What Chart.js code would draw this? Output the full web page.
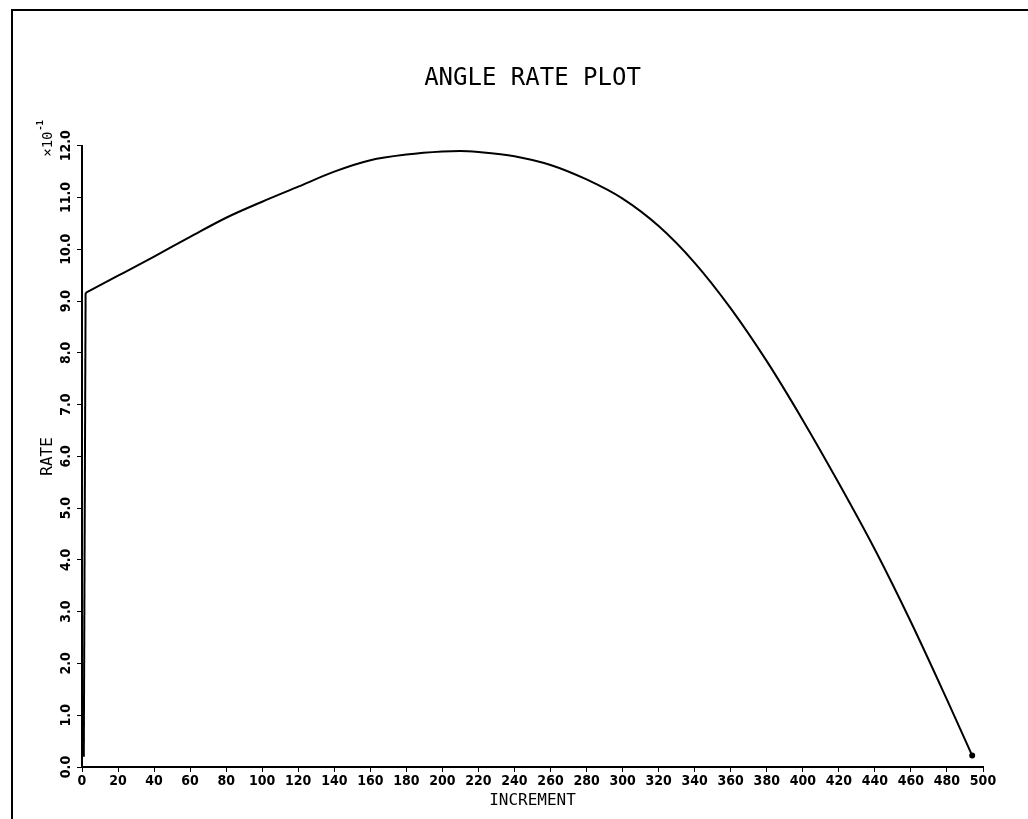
<!DOCTYPE html>
<html>
<head>
<meta charset="utf-8">
<script src="https://cdn.jsdelivr.net/npm/chart.js@4"></script>
<style>
  body { margin: 0; background: #fff; }
  canvas { display: block; }
</style>
</head>
<body>
<canvas id="rateChart" width="1028" height="819"></canvas>
<script>
const increments = [1, 2, 20, 40, 60, 80, 100, 120, 140, 160, 180, 200, 210, 220, 240, 260, 280, 300, 320, 340, 360, 380, 400, 420, 440, 460, 480, 494];
const rates = [0.2, 9.16, 9.49, 9.86, 10.24, 10.61, 10.92, 11.21, 11.50, 11.72, 11.83, 11.89, 11.90, 11.88, 11.80, 11.63, 11.35, 10.98, 10.45, 9.74, 8.86, 7.84, 6.70, 5.48, 4.20, 2.80, 1.30, 0.22];
const xTicks = [0, 20, 40, 60, 80, 100, 120, 140, 160, 180, 200, 220, 240, 260, 280, 300, 320, 340, 360, 380, 400, 420, 440, 460, 480, 500];
const yTicks = [0, 1, 2, 3, 4, 5, 6, 7, 8, 9, 10, 11, 12];

const tickFont = { family: "'Liberation Sans Narrow', 'DejaVu Sans Condensed', sans-serif", size: 14, weight: 'bold' };
const monoFont = "'DejaVu Sans Mono', monospace";

const points = increments.map((x, i) => ({ x: x, y: rates[i] }));
// start-up jump drawn straight, the rest as a smooth curve
const jump = points.slice(0, 2);
const curve = points.slice(1);

// page frame + exponent label
const framePlugin = {
    id: 'frame',
    beforeDraw(chart) {
        const c = chart.ctx;
        c.save();
        c.fillStyle = '#fff';
        c.fillRect(0, 0, chart.width, chart.height);
        c.strokeStyle = '#000';
        c.lineWidth = 2;
        c.beginPath();
        c.moveTo(12, chart.height);
        c.lineTo(12, 10);
        c.lineTo(chart.width, 10);
        c.stroke();
        c.restore();
    },
    afterDraw(chart) {
        const y = chart.scales.y;
        const c = chart.ctx;
        c.save();
        c.translate(48, y.top + 11);
        c.rotate(-Math.PI / 2);
        c.fillStyle = '#000';
        c.textBaseline = 'middle';
        c.textAlign = 'left';
        c.font = '14px ' + monoFont;
        c.fillText('\u00d710', 0, 0);
        c.font = 'bold 9px ' + monoFont;
        c.fillText('-1', 26, -7);
        c.restore();
    }
};

new Chart(document.getElementById('rateChart').getContext('2d'), {
    type: 'line',
    data: {
        datasets: [{
            label: 'RATE',
            data: jump,
            borderColor: '#000',
            borderWidth: 2,
            tension: 0,
            pointRadius: 0,
            fill: false
        }, {
            label: 'RATE',
            data: curve,
            borderColor: '#000',
            backgroundColor: '#000',
            borderWidth: 2,
            cubicInterpolationMode: 'monotone',
            pointRadius: curve.map((p, i) => i === curve.length - 1 ? 2 : 0),
            fill: false
        }]
    },
    options: {
        responsive: false,
        animation: false,
        layout: { padding: { left: 30, right: 45, top: 0, bottom: 0 } },
        plugins: {
            legend: { display: false },
            tooltip: { enabled: false },
            title: {
                display: true,
                text: 'ANGLE RATE PLOT',
                fullSize: false,
                color: '#000',
                font: { family: monoFont, size: 24, weight: 'normal' },
                padding: { top: 64, bottom: 53 }
            }
        },
        scales: {
            x: {
                type: 'linear',
                min: 0,
                max: 500,
                afterBuildTicks: s => { s.ticks = xTicks.map(v => ({ value: v })); },
                afterFit: s => { s.height = 52; },
                ticks: {
                    color: '#000',
                    font: tickFont,
                    padding: 1,
                    maxRotation: 0,
                    autoSkip: false,
                    callback: v => String(v)
                },
                grid: { drawOnChartArea: false, color: '#000', tickLength: 5 },
                border: { color: '#000', width: 2 },
                title: {
                    display: true,
                    text: 'INCREMENT',
                    color: '#000',
                    font: { family: monoFont, size: 16 },
                    padding: { top: 0, bottom: 9 }
                }
            },
            y: {
                min: 0,
                max: 12,
                afterBuildTicks: s => { s.ticks = yTicks.map(v => ({ value: v })); },
                afterFit: s => { s.width = 52; },
                ticks: {
                    color: '#000',
                    font: tickFont,
                    minRotation: 90,
                    maxRotation: 90,
                    crossAlign: 'center',
                    padding: -5,
                    autoSkip: false,
                    callback: v => v.toFixed(1)
                },
                grid: { drawOnChartArea: false, color: '#000', tickLength: 5 },
                border: { color: '#000', width: 2 },
                title: {
                    display: true,
                    text: 'RATE',
                    color: '#000',
                    font: { family: monoFont, size: 16 },
                    padding: { top: 8, bottom: 0 }
                }
            }
        }
    },
    plugins: [framePlugin]
});
</script>
</body>
</html>
